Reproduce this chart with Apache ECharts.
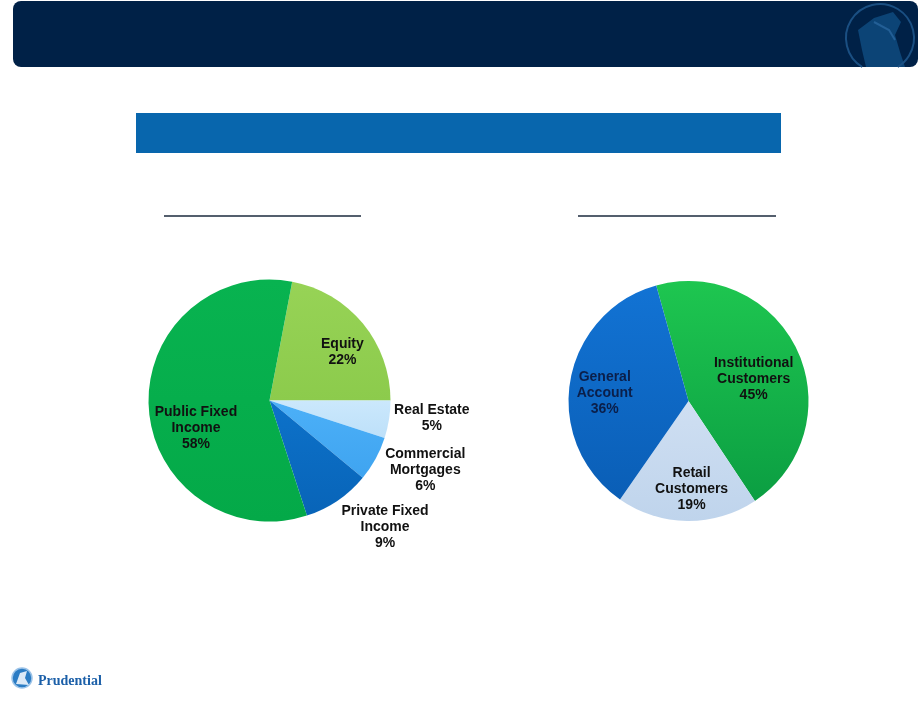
<!DOCTYPE html>
<html>
<head>
<meta charset="utf-8">
<script src="https://cdn.jsdelivr.net/npm/echarts@6/dist/echarts.min.js"></script>
<style>
html,body{margin:0;padding:0;background:#fff;}
#chart{width:919px;height:704px;}
</style>
</head>
<body>
<div id="chart"></div>
<script>
// ---- data ----
var assetCategories = ['Equity', 'Real Estate', 'Commercial\nMortgages', 'Private Fixed\nIncome', 'Public Fixed\nIncome'];
var assetValues = [22, 5, 6, 9, 58];
var assetInside = [true, false, false, false, true];

var clientCategories = ['Institutional\nCustomers', 'Retail\nCustomers', 'General\nAccount'];
var clientValues = [45, 19, 36];

// ---- styles ----
function grad(a, b) {
  return new echarts.graphic.LinearGradient(0, 0, 0, 1, [{offset: 0, color: a}, {offset: 1, color: b}]);
}
var assetColors = [grad('#97d356', '#8ccb4c'), grad('#cbe8fc', '#bde0f9'), grad('#4cb0f8', '#3fa4f0'), grad('#0d72ca', '#0864b8'), grad('#08b350', '#04a948')];
var assetOffset = [[3, 9], [-2, -8], [10, -10], [22, -11], [17, 22]];
var clientColors = [grad('#1ec650', '#0b9e42'), grad('#cfdff2', '#bfd4ec'), grad('#1273d4', '#0a5eb6')];
var clientOffset = [[-14, 14], [4, 1], [2, 7]];
var clientText = ['#111', '#111', '#0b1f4a'];

var L = {cx: 269.5, cy: 400.5, r: 121};
var Rt = {cx: 688.5, cy: 401, r: 120};

var labelBase = {
  fontFamily: 'Liberation Sans, Arial, sans-serif',
  fontWeight: 'bold',
  fontSize: 14,
  lineHeight: 16,
  color: '#111',
  position: 'inside',
  formatter: function (p) { return p.name + '\n' + p.value + '%'; }
};

function mainSeries(center, r, names, values, colors, startAngle) {
  return {
    type: 'pie', center: center, radius: [0, r], startAngle: startAngle, clockwise: true,
    silent: true, label: {show: false}, labelLine: {show: false},
    emphasis: {disabled: true},
    data: names.map(function (n, i) { return {name: n, value: values[i], itemStyle: {color: colors[i]}}; })
  };
}
function labelSeries(center, radius, names, values, startAngle, showFn, offs, colors) {
  return {
    type: 'pie', center: center, radius: radius, startAngle: startAngle, clockwise: true,
    silent: true, labelLine: {show: false}, emphasis: {disabled: true},
    avoidLabelOverlap: false,
    labelLayout: {hideOverlap: false},
    itemStyle: {color: 'rgba(0,0,0,0)'},
    label: labelBase,
    data: names.map(function (n, i) {
      return {
        name: n, value: values[i],
        label: {show: showFn(i), offset: offs[i], color: colors ? colors[i] : '#111'}
      };
    })
  };
}

// Equity ends at 3 o'clock
var leftStart = assetValues[0] * 3.6;
var rightStart = 105.6;

var chart = echarts.init(document.getElementById('chart'), null, {renderer: 'canvas'});
chart.setOption({
  backgroundColor: '#ffffff',
  animation: false,
  graphic: [
    {type: 'rect', shape: {x: 13, y: 1, width: 905, height: 66, r: 8}, style: {fill: '#002147'}},
    {type: 'polygon', shape: {points: [[858,30],[874,18],[893,12],[901,22],[895,35],[900,52],[905,67],[866,67],[862,50]]}, style: {fill: '#0c4476'}},
    {type: 'polyline', shape: {points: [[874,22],[889,30],[895,40]]}, style: {stroke: '#235f96', lineWidth: 2, fill: 'none'}},
    {type: 'arc', shape: {cx: 880, cy: 38, r: 34, startAngle: 121.5 * Math.PI / 180, endAngle: (58.5 + 360) * Math.PI / 180, clockwise: true}, style: {fill: 'none', stroke: '#1a4f82', lineWidth: 2}},
    {type: 'rect', shape: {x: 136, y: 113, width: 645, height: 40}, style: {fill: '#0866ad'}},
    {type: 'line', shape: {x1: 164, y1: 216, x2: 361, y2: 216}, style: {stroke: '#1b2a3c', lineWidth: 1.5}},
    {type: 'line', shape: {x1: 578, y1: 216, x2: 776, y2: 216}, style: {stroke: '#1b2a3c', lineWidth: 1.5}},
    {type: 'circle', shape: {cx: 22, cy: 678, r: 10}, style: {fill: '#2b7cc4', stroke: '#9cc3e8', lineWidth: 1.5}},
    {type: 'polygon', shape: {points: [[16,684],[20,673],[27,671],[25,678],[29,685]]}, style: {fill: '#dbe9f7'}},
    {type: 'text', style: {x: 38, y: 681, text: 'Prudential', fill: '#1b5fa8', font: 'bold 14px "Liberation Serif", "DejaVu Serif", serif', textVerticalAlign: 'middle'}}
  ],
  series: [
    mainSeries([L.cx, L.cy], L.r, assetCategories, assetValues, assetColors, leftStart),
    labelSeries([L.cx, L.cy], [L.r * 0.45, L.r], assetCategories, assetValues, leftStart,
      function (i) { return assetInside[i]; }, assetOffset),
    labelSeries([L.cx, L.cy], [L.r * 1.1, L.r * 1.6], assetCategories, assetValues, leftStart,
      function (i) { return !assetInside[i]; }, assetOffset),
    mainSeries([Rt.cx, Rt.cy], Rt.r, clientCategories, clientValues, clientColors, rightStart),
    labelSeries([Rt.cx, Rt.cy], [Rt.r * 0.4, Rt.r], clientCategories, clientValues, rightStart,
      function () { return true; }, clientOffset, clientText)
  ]
});
</script>
</body>
</html>
